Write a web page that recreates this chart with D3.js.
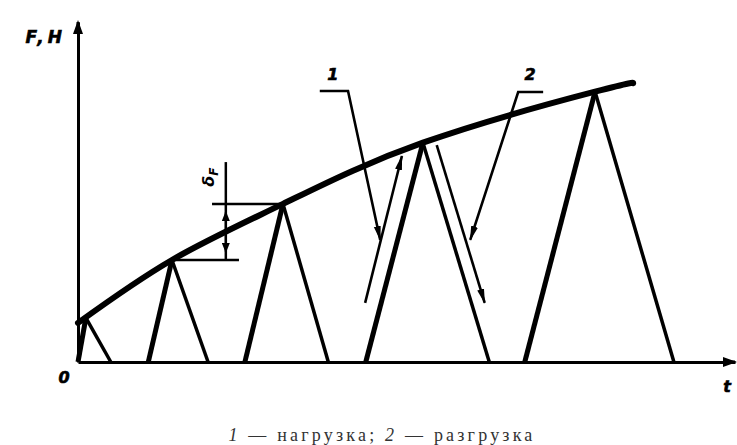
<!DOCTYPE html>
<html><head><meta charset="utf-8">
<script src="https://cdn.jsdelivr.net/npm/d3@7"></script>
<style>body{margin:0;background:#fff}svg{display:block}</style>
</head><body><svg id="c" width="737" height="445"></svg>
<script>
// envelope curve (t, F)
const envelopeT = [0, 1.43, 3.12, 5.25, 7.87, 8.45];
const envelopeF = [1.15, 3.0, 4.65, 6.45, 7.95, 8.2];
// load/unload cycles
const cycleStart = [0, 1.07, 2.54, 4.38, 6.80];
const cyclePeakT = [0.12, 1.43, 3.12, 5.25, 7.87];
const cyclePeakF = [1.30, 3.0, 4.65, 6.45, 7.95];
const cycleEnd = [0.5, 1.98, 3.81, 6.26, 9.07];
// leader arrows
const leaderOneT = [3.68, 4.11, 4.60], leaderOneF = [7.97, 7.97, 3.59];
const arrowOneT = [4.37, 4.93], arrowOneF = [1.74, 6.06];
const leaderTwoT = [7.08, 6.70, 5.97], leaderTwoF = [7.94, 7.94, 3.59];
const arrowTwoT = [5.46, 6.19], arrowTwoF = [6.38, 1.74];
const calloutLabels = ["1", "2"];
const calloutT = [3.88, 6.88], calloutF = [8.3, 8.3];
// dimension δF
const dimT = 2.25, dimTop = 5.88;
const dimTopLeftT = 2.04, dimBottomRightT = 2.45;
const axisLabelY = "F,H", axisLabelX = "t", originLabel = "0";
const captionParts = [["1", true], [" — нагрузка; ", false], ["2", true], [" — разгрузка", false]];

const svg = d3.select("#c");
const x = d3.scaleLinear().domain([0, 10]).range([78, 735]);
const y = d3.scaleLinear().domain([0, 10]).range([362, 22]);

const defs = svg.append("defs");
defs.append("marker").attr("id", "ah").attr("markerUnits", "userSpaceOnUse")
  .attr("viewBox", "0 0 15 10").attr("refX", 14).attr("refY", 5)
  .attr("markerWidth", 15).attr("markerHeight", 10).attr("orient", "auto")
  .append("path").attr("d", "M0,1.5 L15,5 L0,8.5 Z").attr("fill", "#000");
defs.append("marker").attr("id", "ax").attr("markerUnits", "userSpaceOnUse")
  .attr("viewBox", "0 0 14 12").attr("refX", 12).attr("refY", 6)
  .attr("markerWidth", 14).attr("markerHeight", 12).attr("orient", "auto")
  .append("path").attr("d", "M0,1 L14,6 L0,11 Z").attr("fill", "#000");
defs.append("marker").attr("id", "sm").attr("markerUnits", "userSpaceOnUse")
  .attr("viewBox", "0 0 10 8").attr("refX", 9).attr("refY", 4)
  .attr("markerWidth", 10).attr("markerHeight", 8).attr("orient", "auto")
  .append("path").attr("d", "M0,0 L10,4 L0,8 Z").attr("fill", "#000");

// axes
const gx = svg.append("g").attr("transform", `translate(0,${y(0)})`)
  .call(d3.axisBottom(x).tickValues([]).tickSizeOuter(0));
const gy = svg.append("g").attr("transform", `translate(${x(0)},0)`)
  .call(d3.axisLeft(y).tickValues([]).tickSizeOuter(0));
[gx, gy].forEach(g => g.select(".domain").attr("stroke", "#000").attr("stroke-width", 3));
svg.append("line").attr("x1", x(9.9)).attr("x2", x(10)).attr("y1", y(0)).attr("y2", y(0))
  .attr("stroke", "#000").attr("stroke-width", 3).attr("marker-end", "url(#ax)");
svg.append("line").attr("x1", x(0)).attr("x2", x(0)).attr("y1", y(9.9)).attr("y2", y(10))
  .attr("stroke", "#000").attr("stroke-width", 3).attr("marker-end", "url(#ax)");

const lab = (txt, px, py, anchor) => svg.append("text").attr("x", px).attr("y", py)
  .attr("text-anchor", anchor || "middle").attr("font-family", "DejaVu Sans, sans-serif")
  .attr("font-weight", "bold").attr("font-style", "italic").attr("font-size", 16)
  .attr("stroke", "#000").attr("stroke-width", 0.6).text(txt);
lab(axisLabelY, x(0) - 12, y(10) + 21, "end").attr("letter-spacing", 4).attr("font-size", 17);
lab(originLabel, x(0) - 14, y(0) + 21);
lab(axisLabelX, x(10) - 8, y(0) + 30);

// cycles
cycleStart.forEach((s, i) => {
  svg.append("line").attr("x1", x(s)).attr("y1", y(0)).attr("x2", x(cyclePeakT[i])).attr("y2", y(cyclePeakF[i]))
    .attr("stroke", "#000").attr("stroke-width", 5);
  svg.append("line").attr("x1", x(cyclePeakT[i])).attr("y1", y(cyclePeakF[i])).attr("x2", x(cycleEnd[i])).attr("y2", y(0))
    .attr("stroke", "#000").attr("stroke-width", 3.5);
});

// envelope
const env = envelopeT.map((t, i) => [t, envelopeF[i]]);
svg.append("path").datum(env)
  .attr("d", d3.line().x(d => x(d[0])).y(d => y(d[1])).curve(d3.curveNatural))
  .attr("fill", "none").attr("stroke", "#000").attr("stroke-width", 6).attr("stroke-linecap", "round");

// leaders and arrows
const pl = (T, F) => svg.append("path").datum(T.map((t, i) => [t, F[i]]))
  .attr("d", d3.line().x(d => x(d[0])).y(d => y(d[1])))
  .attr("fill", "none").attr("stroke", "#000").attr("stroke-width", 2.6)
  .attr("marker-end", "url(#ah)");
pl(leaderOneT, leaderOneF);
pl(arrowOneT, arrowOneF);
pl(leaderTwoT, leaderTwoF);
pl(arrowTwoT, arrowTwoF);
calloutLabels.forEach((l, i) => lab(l, x(calloutT[i]), y(calloutF[i])));

// δF dimension
const p2 = cyclePeakF[1], p3 = cyclePeakF[2];
svg.append("line").attr("x1", x(dimT)).attr("x2", x(dimT)).attr("y1", y(dimTop)).attr("y2", y(p2))
  .attr("stroke", "#000").attr("stroke-width", 2.5);
svg.append("line").attr("x1", x(dimTopLeftT)).attr("x2", x(cyclePeakT[2])).attr("y1", y(p3)).attr("y2", y(p3))
  .attr("stroke", "#000").attr("stroke-width", 2.5);
svg.append("line").attr("x1", x(cyclePeakT[1])).attr("x2", x(dimBottomRightT)).attr("y1", y(p2)).attr("y2", y(p2))
  .attr("stroke", "#000").attr("stroke-width", 2.5);
const mid = (p2 + p3) / 2;
svg.append("line").attr("x1", x(dimT)).attr("x2", x(dimT)).attr("y1", y(mid)).attr("y2", y(p3) + 8)
  .attr("stroke", "#000").attr("stroke-width", 2).attr("marker-end", "url(#sm)");
svg.append("line").attr("x1", x(dimT)).attr("x2", x(dimT)).attr("y1", y(mid)).attr("y2", y(p2) - 8)
  .attr("stroke", "#000").attr("stroke-width", 2).attr("marker-end", "url(#sm)");
const dl = svg.append("text").attr("transform", `translate(${x(dimT) - 12},${y(dimTop) + 15}) rotate(-90)`)
  .attr("text-anchor", "middle").attr("font-family", "DejaVu Sans, sans-serif")
  .attr("font-weight", "bold").attr("font-style", "italic").attr("font-size", 16);
dl.append("tspan").text("δ");
dl.append("tspan").attr("dy", 4).attr("font-size", 12).text("F");

// caption
const cap = svg.append("text").attr("x", 382).attr("y", 441).attr("text-anchor", "middle")
  .attr("font-family", "Liberation Serif, Times New Roman, serif").attr("font-size", 18)
  .attr("letter-spacing", 3.2).attr("fill", "#333");
captionParts.forEach(([t, it]) => cap.append("tspan").attr("font-style", it ? "italic" : "normal").text(t));
</script></body></html>
